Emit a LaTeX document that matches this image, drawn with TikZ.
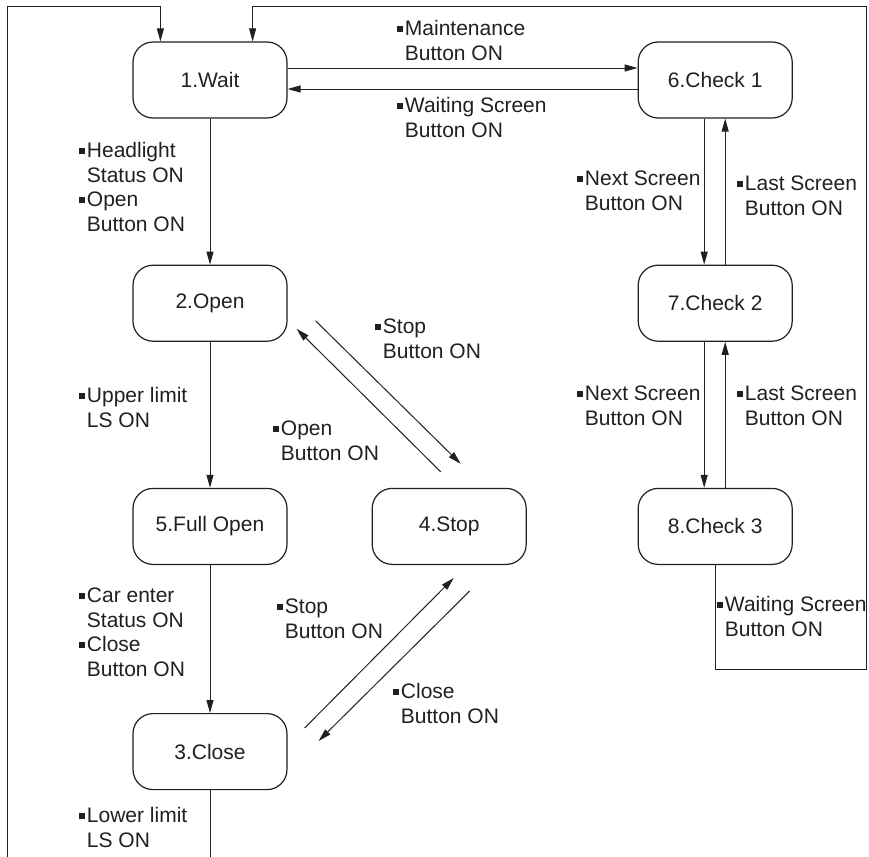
\documentclass[tikz,border=0pt]{standalone}
\usepackage{fontspec}
\setmainfont{Liberation Sans}
\usepackage{tikz}
\usetikzlibrary{arrows.meta,positioning}
\definecolor{GateInk}{HTML}{231F20}
\newcommand\sq{\strut\rule[0.19em]{0.26em}{0.26em}\hspace{0.1em}}
\newcommand\ind{\hspace{0.36em}}

\begin{document}
\begin{tikzpicture}[
    x=0.5pt,y=-0.5pt,
    node distance=73pt,
    state/.style={draw=GateInk,rounded corners=10pt,minimum width=77pt,minimum height=38pt,
      line width=0.6pt,text=GateInk,font=\fontsize{10.5}{12.3}\selectfont},
    cond/.style={anchor=north west,inner sep=0pt,align=left,text=GateInk,
      font=\fontsize{10.5}{12.3}\selectfont},
    arrow/.style={-{Triangle[length=6.5pt,width=3.5pt]},line width=0.5pt,draw=GateInk},
    wire/.style={line width=0.5pt,draw=GateInk}
  ]
    \useasboundingbox (0,0) rectangle (869,857);
    % states
    \node[state] (wait) at (210,80) {1.Wait};
    \node[state,below=of wait] (open) {2.Open};
    \node[state,below=of open] (full) {5.Full Open};
    \node[state,below=74pt of full] (close) {3.Close};
    \node[state,right=42pt of full] (stop) {4.Stop};
    \node[state,right=175pt of wait] (check1) {6.Check 1};
    \node[state,below=of check1] (check2) {7.Check 2};
    \node[state,below=of check2] (check3) {8.Check 3};
    % loop ends
    \coordinate (cutL) at (7,857);
    \coordinate (cutC) at (close.south |- cutL);
    \coordinate (ceil) at (0,6);
    \coordinate (loopR) at (866,669);
    \coordinate (inL) at ([xshift=14pt]wait.north west);
    \coordinate (inR) at ([xshift=-17.5pt]wait.north east);
    % conditions
    \node[cond] (maint) at (397,18) {\sq Maintenance\\\ind Button ON};
    \node[cond] (waitscr) at (397,95) {\sq Waiting Screen\\\ind Button ON};
    \node[cond] (headl) at (79,140) {\sq Headlight\\\ind Status ON\\\sq Open\\\ind Button ON};
    \node[cond] (upper) at (79,385) {\sq Upper limit\\\ind LS ON};
    \node[cond] (carin) at (79,585) {\sq Car enter\\\ind Status ON\\\sq Close\\\ind Button ON};
    \node[cond] (lower) at (79,805) {\sq Lower limit\\\ind LS ON};
    \node[cond] (stopA) at (375,316) {\sq Stop\\\ind Button ON};
    \node[cond] (openA) at (273,418) {\sq Open\\\ind Button ON};
    \node[cond] (stopB) at (277,596) {\sq Stop\\\ind Button ON};
    \node[cond] (closeB) at (393,681) {\sq Close\\\ind Button ON};
    \node[cond] (nextA) at (577,168) {\sq Next Screen\\\ind Button ON};
    \node[cond] (lastA) at (737,173) {\sq Last Screen\\\ind Button ON};
    \node[cond] (nextB) at (577,383) {\sq Next Screen\\\ind Button ON};
    \node[cond] (lastB) at (737,383) {\sq Last Screen\\\ind Button ON};
    \node[cond] (waitscrB) at (717,594) {\sq Waiting Screen\\\ind Button ON};
    % transitions
    \draw[arrow] ([yshift=6pt]wait.east) -- ([yshift=6pt]check1.west);
    \draw[arrow] ([yshift=-4.5pt]check1.west) -- ([yshift=-4.5pt]wait.east);
    \draw[arrow] (wait) -- (open);
    \draw[arrow] (open) -- (full);
    \draw[arrow] (full) -- (close);
    \draw[wire] (close) -- (cutC);
    \draw[arrow] ([shift={(14pt,10.5pt)}]open.south east) -- ([shift={(5.75pt,12pt)}]stop.north);
    \draw[arrow] ([shift={(-4.25pt,8pt)}]stop.north) -- ([shift={(4.5pt,6.5pt)}]open.south east);
    \draw[arrow] ([shift={(8.5pt,-7.5pt)}]close.north east) -- ([shift={(2.25pt,-6.5pt)}]stop.south);
    \draw[arrow] ([shift={(10.25pt,-13pt)}]stop.south) -- ([shift={(15.5pt,-14pt)}]close.north east);
    \draw[arrow] ([xshift=-5.5pt]check1.south) -- ([xshift=-5.5pt]check2.north);
    \draw[arrow] ([xshift=5pt]check2.north) -- ([xshift=5pt]check1.south);
    \draw[arrow] ([xshift=-5.5pt]check2.south) -- ([xshift=-5.5pt]check3.north);
    \draw[arrow] ([xshift=5pt]check3.north) -- ([xshift=5pt]check2.south);
    \draw[arrow] (cutL) |- (inL |- ceil) -- (inL);
    \draw[arrow] (check3) |- (loopR) |- (inR |- ceil) -- (inR);
  \end{tikzpicture}
\end{document}
